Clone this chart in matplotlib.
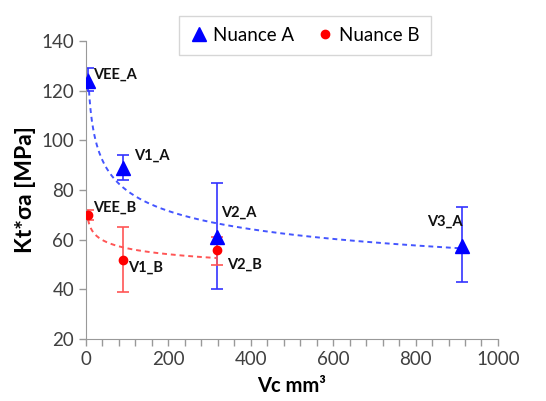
import numpy as np
import matplotlib
matplotlib.use("Agg")
import matplotlib.pyplot as plt
from matplotlib.ticker import MultipleLocator

plt.rcParams['font.family'] = ['Lato', 'DejaVu Sans']

# Nuance A
xa = [5, 90, 318, 912]
ya = [124, 89, 61, 57.5]
ea_lo = [4, 5, 21, 14.5]
ea_hi = [5, 5, 22, 15.5]
lab_a = ["VEE_A", "V1_A", "V2_A", "V3_A"]

# Nuance B
xb = [5, 90, 318]
yb = [70, 52, 56]
eb_lo = [2, 13, 6]
eb_hi = [2, 13, 5]
lab_b = ["VEE_B", "V1_B", "V2_B"]

fig = plt.figure(figsize=(5.46, 4.01), dpi=100)
ax = fig.add_axes([0.1575, 0.1546, 0.7545, 0.7431])

blue = "#0000ff"
red = "#ff0000"

ax.errorbar(xa, ya, yerr=[ea_lo, ea_hi], fmt="none", ecolor="#3333ff",
            elinewidth=1.2, capsize=4, capthick=1.2, zorder=2)
ax.errorbar(xb, yb, yerr=[eb_lo, eb_hi], fmt="none", ecolor="#ff5555",
            elinewidth=1.2, capsize=4, capthick=1.2, zorder=2)

# power-law trend lines
for xs, ys, c in [(xa, ya, "#4455ff"), (xb, yb, "#ff5555")]:
    b, lna = np.polyfit(np.log(xs), np.log(ys), 1)
    xt = np.linspace(min(xs), max(xs), 300)
    ax.plot(xt, np.exp(lna) * xt ** b, ls=(0, (2.5, 2)), color=c, lw=1.4, zorder=1)

ax.plot(xa, ya, "^", color=blue, ms=10, ls="none", label="Nuance A", zorder=3)
ax.plot(xb, yb, "o", color=red, ms=6, ls="none", label="Nuance B", zorder=3)

# label positions (data units)
pos_a = [(17, 126.3), (116, 94), (328, 70.7), (828, 67.1)]
pos_b = [(17, 72.7), (102, 48.6), (342, 49.8)]
for t, (x, y) in zip(lab_a + lab_b, pos_a + pos_b):
    ax.text(x, y, t, fontsize=10.5, fontweight="bold", va="center", ha="left",
            color="#111111")

ax.set_xlim(0, 1000)
ax.set_ylim(20, 140)
ax.xaxis.set_major_locator(MultipleLocator(200))
ax.set_xticks(np.arange(40, 1000, 40), minor=True)
ax.yaxis.set_major_locator(MultipleLocator(20))
ax.tick_params(axis="both", which="major", labelsize=13.5, labelcolor="#404040",
               length=5, width=1, color="#999999")
ax.tick_params(axis="x", which="minor", length=5, width=1, color="#999999",
               bottom=True)
for s in ["top", "right"]:
    ax.spines[s].set_visible(False)
for s in ["left", "bottom"]:
    ax.spines[s].set_color("#999999")

ax.set_xlabel("Vc mm³", fontsize=14.5, fontweight="bold", labelpad=6)
ax.set_ylabel("Kt*σa [MPa]", fontsize=16.5, fontweight="bold", labelpad=4)

leg = ax.legend(loc="upper center", bbox_to_anchor=(0.531, 1.085), ncol=2,
                fontsize=13.5, frameon=True, fancybox=False, handletextpad=0.3,
                handlelength=0.9, columnspacing=1.2, borderpad=0.6,
                borderaxespad=0)
leg.get_frame().set_edgecolor("#cccccc")

fig.savefig("out.png", dpi=100)
